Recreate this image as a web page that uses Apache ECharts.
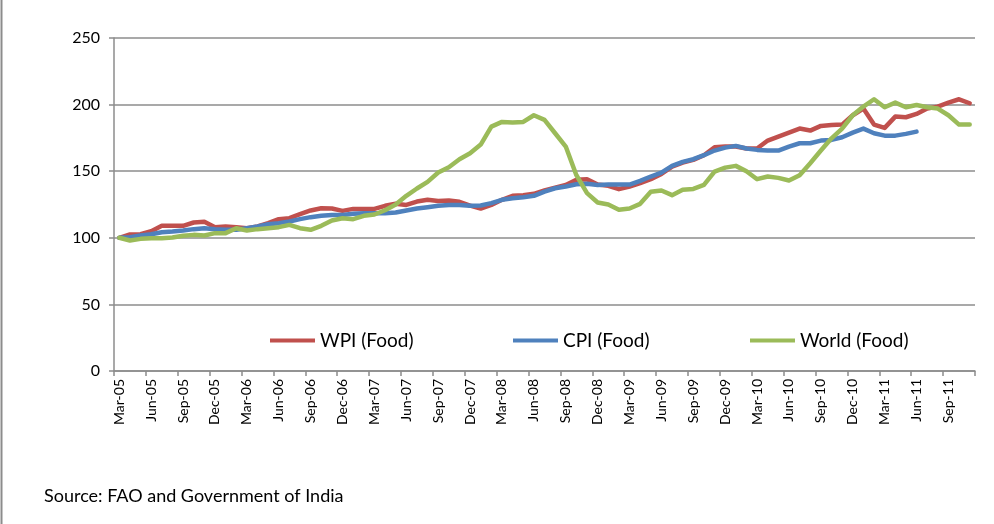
<!DOCTYPE html>
<html>
<head>
<meta charset="utf-8">
<script src="https://cdn.jsdelivr.net/npm/echarts@6/dist/echarts.min.js"></script>
<style>
html,body{margin:0;padding:0;background:#fff;}
#chart{width:994px;height:524px;}
</style>
</head>
<body>
<div id="chart"></div>
<script>
const categories = [
'Mar-05','Apr-05','May-05','Jun-05','Jul-05','Aug-05','Sep-05','Oct-05','Nov-05','Dec-05',
'Jan-06','Feb-06','Mar-06','Apr-06','May-06','Jun-06','Jul-06','Aug-06','Sep-06','Oct-06','Nov-06','Dec-06',
'Jan-07','Feb-07','Mar-07','Apr-07','May-07','Jun-07','Jul-07','Aug-07','Sep-07','Oct-07','Nov-07','Dec-07',
'Jan-08','Feb-08','Mar-08','Apr-08','May-08','Jun-08','Jul-08','Aug-08','Sep-08','Oct-08','Nov-08','Dec-08',
'Jan-09','Feb-09','Mar-09','Apr-09','May-09','Jun-09','Jul-09','Aug-09','Sep-09','Oct-09','Nov-09','Dec-09',
'Jan-10','Feb-10','Mar-10','Apr-10','May-10','Jun-10','Jul-10','Aug-10','Sep-10','Oct-10','Nov-10','Dec-10',
'Jan-11','Feb-11','Mar-11','Apr-11','May-11','Jun-11','Jul-11','Aug-11','Sep-11','Oct-11','Nov-11'
];

const wpiFood = [
100,102.5,102.7,105,109,109,109,111.5,112,108,
108.5,108,107.2,108.5,111,114,114.7,117.7,120.5,122.2,122,120.2,
121.7,121.7,121.7,124,125.5,124.7,127.2,128.5,127.7,128,127,124.2,
122,124.7,128.5,131.5,132,133,135.5,137.7,139.7,143.5,144,140,
139,136.5,138.5,141,144,148,153.5,156.5,158.5,162,168,168.5,
168.5,167,167,173,176,179,182,180.5,184,184.7,185,192,
197,185,182.5,191,190.5,193,197,198.5,201.5,204,201
];

const cpiFood = [
100,100.5,101.7,102.7,104.2,104.7,105.5,106.5,107.2,106.5,
106,106,107.2,108.5,110.2,111,112.2,114,115.5,116.5,117.2,117.2,
118,118.5,118.5,118.5,119,120.5,122,123,124,124.7,124.7,124,
124.2,126,128.5,129.7,130.5,131.5,134.7,137.2,138.5,140.2,140.5,139.7,
140,140,140,142.7,146,149,154,157,159,162,165.5,167.7,
169,167,166,165.5,165.5,168.5,171,171,173,173.5,175.5,179,
182,178.5,176.7,176.7,178,179.7,null,null,null,null,null
];

const worldFood = [
100,98,99.2,99.7,99.7,100.2,101.5,102.2,101.7,103.5,
103.5,107.2,105.5,106.5,107.2,108,109.7,107.2,106,109,113,114.7,
114,116.5,117.5,120.7,125,131.5,137,142,149,153,159,163.5,
170,183.5,187,186.5,187,192,188.5,178.5,168.5,147,133.5,126.5,
125,121,122,125.5,134.5,135.5,132,136,136.7,139.7,149.7,152.7,
154,150,144,146,145,143,147,156,165.5,174.7,182,192,
198.5,204,198,201.5,198,199.7,198,197,192,185,185
];

const yTicks = { min: 0, max: 250, interval: 50 };
const seriesNames = ['WPI (Food)', 'CPI (Food)', 'World (Food)'];
const seriesColors = ['#C0504D', '#4F81BD', '#9BBB59'];
const sourceText = 'Source: FAO and Government of India';

const FONT = 'Lato, "Open Sans", sans-serif';
const chart = echarts.init(document.getElementById('chart'), null, { renderer: 'canvas' });

function legendAt(name, left) {
  return {
    data: [{ name: name, icon: 'rect' }],
    left: left, top: 331,
    padding: 0,
    itemWidth: 45, itemHeight: 4,
    itemGap: 0,
    textStyle: { fontFamily: FONT, fontSize: 19, color: '#000' },
    selectedMode: false
  };
}

const dataSets = [wpiFood, cpiFood, worldFood];

chart.setOption({
  backgroundColor: '#fff',
  animation: false,
  grid: { left: 114, right: 19, top: 38, bottom: 153, containLabel: false },
  legend: [legendAt(seriesNames[0], 270), legendAt(seriesNames[1], 513), legendAt(seriesNames[2], 750)],
  xAxis: {
    type: 'category',
    data: categories,
    boundaryGap: true,
    axisLine: { show: true, lineStyle: { color: '#8c8c8c', width: 1.5 } },
    axisTick: { show: true, interval: 2, length: 5, lineStyle: { color: '#8c8c8c', width: 1.5 } },
    axisLabel: { interval: 2, rotate: 90, margin: 8, fontFamily: FONT, fontSize: 14, color: '#000' },
    splitLine: { show: false }
  },
  yAxis: {
    type: 'value',
    min: yTicks.min, max: yTicks.max, interval: yTicks.interval,
    axisLine: { show: true, lineStyle: { color: '#8c8c8c', width: 1.5 } },
    axisTick: { show: true, length: 5, lineStyle: { color: '#8c8c8c', width: 1.5 } },
    axisLabel: { margin: 14, fontFamily: FONT, fontSize: 16, color: '#000' },
    splitLine: { show: true, lineStyle: { color: '#8c8c8c', width: 1.5 } }
  },
  series: seriesNames.map((n, i) => ({
    name: n,
    type: 'line',
    data: dataSets[i],
    showSymbol: false,
    symbol: 'none',
    connectNulls: false,
    lineStyle: { color: seriesColors[i], width: 4.5, join: 'round', cap: 'round' },
    itemStyle: { color: seriesColors[i] },
    z: 2 + i
  })),
  graphic: [
    { type: 'line', shape: { x1: 1.5, y1: 0, x2: 1.5, y2: 524 }, style: { stroke: '#8c8c8c', lineWidth: 2 } },
    { type: 'text', left: 44, top: 487, style: { text: sourceText, fontFamily: FONT, fontSize: 18, fill: '#000' } }
  ]
});
</script>
</body>
</html>
